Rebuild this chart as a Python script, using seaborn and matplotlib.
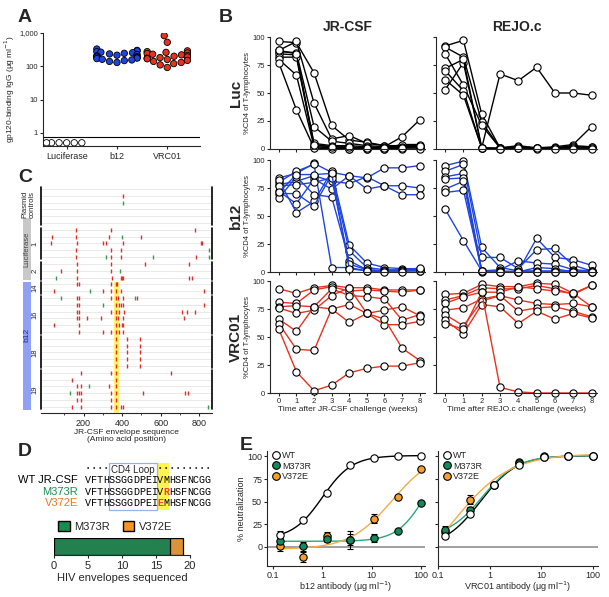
import numpy as np
import pandas as pd
import seaborn as sns
import matplotlib.pyplot as plt
from matplotlib.patches import Rectangle
from matplotlib.lines import Line2D
from matplotlib.ticker import NullLocator, FixedLocator
import matplotlib.transforms as mtrans

# ---------------- data ----------------
# A: gp120-binding IgG (ug/ml)
luc_igg = [0.5, 0.5, 0.5, 0.5, 0.5, 0.5]
b12_igg = [330, 300, 290, 275, 265, 255, 245, 235, 225, 215, 205, 200, 195, 188,
           182, 176, 170, 162, 155, 148, 140, 130]
vrc_igg = [830, 525, 290, 275, 262, 250, 240, 230, 220, 210, 200, 190, 182, 175,
           168, 160, 150, 140, 130, 120, 110, 92]

# B: %CD4 of T-lymphocytes, weeks 0-8, one list per mouse
weeks = [0, 1, 2, 3, 4, 5, 6, 7, 8]
luc_jr = [[96, 95, 68, 21, 8, 6, 3, 2, 2],
          [88, 96, 41, 9, 12, 5, 3, 3, 3],
          [87, 86, 20, 7, 5, 3, 2, 11, 26],
          [85, 84, 5, 3, 3, 2, 1, 4, 4],
          [82, 82, 3, 2, 1, 1, 1, 2, 2],
          [80, 66, 2, 1, 0, 0, 0, 1, 1],
          [77, 35, 1, 0, 0, 0, 0, 0, 0],
          [88, 85, 4, 2, 2, 1, 1, 1, 3]]
luc_rejo = [[53, 77, 1, 67, 61, 73, 50, 50, 48],
            [92, 97, 31, 1, 1, 1, 1, 1, 1],
            [91, 82, 24, 1, 2, 1, 2, 4, 20],
            [85, 57, 21, 1, 1, 1, 1, 3, 2],
            [72, 80, 1, 1, 3, 1, 1, 2, 2],
            [70, 52, 1, 0, 2, 0, 1, 1, 1],
            [62, 48, 1, 0, 1, 1, 0, 0, 0]]
b12_jr = [[84, 88, 97, 89, 86, 84, 93, 93, 95],
          [78, 81, 86, 81, 79, 85, 77, 77, 75],
          [72, 61, 83, 74, 86, 74, 77, 69, 69],
          [80, 90, 96, 4, 4, 1, 1, 1, 1],
          [82, 53, 63, 90, 24, 8, 4, 3, 3],
          [70, 70, 59, 87, 19, 4, 2, 2, 2],
          [66, 85, 69, 67, 10, 2, 1, 1, 2],
          [77, 78, 80, 84, 7, 2, 1, 1, 1],
          [71, 87, 87, 88, 3, 1, 0, 0, 4]]
b12_rejo = [[95, 99, 22, 4, 1, 30, 13, 11, 6],
            [90, 96, 13, 13, 3, 20, 21, 6, 1],
            [85, 88, 1, 2, 10, 8, 7, 2, 1],
            [83, 84, 1, 1, 0, 4, 3, 0, 0],
            [74, 81, 0, 0, 1, 1, 1, 1, 1],
            [71, 73, 1, 0, 0, 0, 0, 0, 0],
            [56, 28, 1, 0, 0, 0, 0, 0, 0]]
vrc_jr = [[93, 89, 94, 96, 94, 94, 92, 92, 92],
          [81, 80, 92, 95, 91, 92, 91, 90, 92],
          [77, 78, 77, 93, 87, 86, 84, 65, 70],
          [76, 71, 74, 87, 94, 71, 61, 61, 64],
          [66, 55, 77, 75, 79, 71, 74, 77, 69],
          [62, 39, 38, 75, 63, 71, 66, 40, 29],
          [57, 19, 2, 7, 18, 22, 24, 24, 27]]
vrc_rejo = [[88, 89, 97, 95, 95, 98, 97, 89, 96],
            [83, 87, 94, 93, 93, 96, 93, 88, 96],
            [80, 86, 90, 90, 95, 93, 91, 89, 77],
            [74, 76, 84, 87, 83, 80, 79, 80, 77],
            [70, 60, 82, 87, 73, 76, 77, 73, 68],
            [65, 53, 79, 77, 62, 73, 66, 71, 67],
            [62, 57, 90, 5, 1, 0, 0, 0, 0]]

# C: mutations per sequenced envelope (amino acid positions), one list per row
red_sites = [[], [405], [], [], [], [],
             [160, 340, 775],
             [35, 160, 330, 500],
             [30, 165, 300, 315, 405, 808, 812],
             [160, 340, 395],
             [160, 340, 395, 780],
             [165, 340, 520, 745],
             [85, 165, 340],
             [165, 345, 395, 400, 405, 745, 760],
             [165, 175, 340, 370, 375],
             [45, 300, 340, 370, 395, 825],
             [165, 175, 340, 370, 380, 405, 475],
             [165, 175, 370, 385, 395, 405, 825],
             [165, 175, 340, 370, 385, 410, 710, 735, 775],
             [165, 175, 220, 290, 370, 380, 405, 720],
             [45, 175, 370, 385, 400, 405],
             [175, 300, 340, 370, 385, 405],
             [370, 425, 490], [370, 425, 490], [370, 425, 490],
             [370, 425, 490], [370, 425, 490],
             [185, 340, 370, 655],
             [140, 370],
             [165, 185, 330, 370],
             [165, 175, 185, 340, 370, 510, 725, 740],
             [165, 185, 340, 370],
             [140, 185, 340, 370, 395, 405]]
green_sites = [[], [], [405], [], [], [],
               [], [400], [], [848], [315, 560, 848],
               [], [390], [60],
               [], [235],
               [85, 465], [300], [], [], [], [],
               [], [], [], [], [],
               [], [], [230], [130], [], [845]]
group_names = ['', '1', '2', '14', '16', '18', '19']
group_sizes = [6, 5, 3, 2, 6, 5, 6]

# D
wt_seq = 'VFTHSSGGDPEIVMHSFNCGG'
m373r_seq = 'VFTHSSGGDPEIVRHSFNCGG'
v372e_seq = 'VFTHSSGGDPEIEMHSFNCGG'
env_variants = ['M373R', 'V372E']
env_counts = [17, 2]

# E: % neutralization
conc = [0.137, 0.41, 1.23, 3.7, 11.1, 33.3, 100]
b12_wt = [13, 30, 60, 91, 98, 100, 100]
b12_m373r = [7, 1, 9, 8, 10, 18, 49]
b12_v372e = [1, -11, 12, 8, 31, 55, 86]
b12_wt_err = [5, 2, 2, 2, 1, 1, 1]
b12_m373r_err = [3, 5, 3, 10, 4, 2, 2]
b12_v372e_err = [5, 6, 5, 6, 5, 2, 2]
vrc_wt = [12, 36, 68, 91, 99, 100, 100]
vrc_m373r = [19, 41, 68, 93, 100, 100, 100]
vrc_v372e = [17, 52, 69, 94, 99, 100, 100]
vrc_wt_err = [2, 2, 2, 2, 1, 1, 1]
vrc_m373r_err = [4, 3, 2, 2, 1, 1, 1]
vrc_v372e_err = [3, 5, 2, 2, 1, 1, 1]

# ---------------- style ----------------
sns.set_style('ticks')
plt.rcParams['font.family'] = ['Liberation Sans', 'DejaVu Sans']
plt.rcParams['axes.linewidth'] = 0.8
plt.rcParams['xtick.major.width'] = 0.8
plt.rcParams['ytick.major.width'] = 0.8
plt.rcParams['xtick.major.size'] = 2.5
plt.rcParams['ytick.major.size'] = 2.5
plt.rcParams['xtick.major.pad'] = 1.5
plt.rcParams['ytick.major.pad'] = 1.5

BLUE = '#1f45e0'
RED = '#e8321e'
GREEN = '#1a8f55'

W, H = 609, 597
fig = plt.figure(figsize=(W / 100, H / 100), dpi=100)


def px_axes(l, t, r, b):
    return fig.add_axes([l / W, 1 - b / H, (r - l) / W, (b - t) / H])


def ftext(x, y, s, **kw):
    fig.text(x / W, 1 - y / H, s, **kw)


for letter, x, y in [('A', 18, 17), ('B', 219, 17), ('C', 18, 178), ('D', 18, 451), ('E', 240, 446)]:
    ftext(x, y, letter, fontsize=14, fontweight='bold', va='center', ha='left')

# ---------------- A ----------------
axA = px_axes(43, 33, 200, 146)
axA.set_yscale('log')
axA.set_ylim(0.4, 1000)
dfA = pd.DataFrame({'group': ['Luciferase'] * len(luc_igg) + ['b12'] * len(b12_igg) + ['VRC01'] * len(vrc_igg),
                    'igg': luc_igg + b12_igg + vrc_igg})
sns.swarmplot(data=dfA, x='group', y='igg', hue='group',
              palette={'Luciferase': 'white', 'b12': BLUE, 'VRC01': RED},
              size=4.6, edgecolor='black', linewidth=0.6, legend=False, ax=axA)
axA.set_xlim(-0.47, 2.65)
axA.axhline(0.75, color='black', lw=0.8)
axA.yaxis.set_major_locator(FixedLocator([1, 10, 100, 1000]))
axA.yaxis.set_minor_locator(NullLocator())
axA.set_yticklabels(['1', '10', '100', '1,000'])
axA.tick_params(axis='y', labelsize=5.5, pad=1)
axA.tick_params(axis='x', labelsize=6.5)
axA.set_xlabel('')
axA.set_ylabel('gp120-binding IgG (μg ml$^{-1}$)', fontsize=6, labelpad=2)
sns.despine(ax=axA)

# ---------------- B ----------------
b_data = [[luc_jr, luc_rejo], [b12_jr, b12_rejo], [vrc_jr, vrc_rejo]]
b_colors = ['black', BLUE, RED]
b_rows = [(37, 149), (160, 272), (281, 393)]
b_cols = [(270, 425), (436, 597)]
row_names = ['Luc', 'b12', 'VRC01']
strains = ['JR-CSF', 'REJO.c']
for i, (t, b) in enumerate(b_rows):
    for j, (l, r) in enumerate(b_cols):
        ax = px_axes(l, t, r, b)
        mice = b_data[i][j]
        df = pd.DataFrame({'week': weeks * len(mice),
                           'cd4': [v for m in mice for v in m],
                           'mouse': [k for k in range(len(mice)) for _ in weeks]})
        sns.lineplot(data=df, x='week', y='cd4', units='mouse', estimator=None,
                     color=b_colors[i], lw=1, marker='o', markersize=5.2,
                     markerfacecolor='white', markeredgecolor='black',
                     markeredgewidth=0.8, clip_on=False, ax=ax)
        ax.set_xlim(-0.5, 8.3)
        ax.set_ylim(0, 100)
        ax.set_xticks(weeks)
        ax.set_yticks([0, 25, 50, 75, 100])
        ax.tick_params(labelsize=5.5, length=2)
        ax.set_xlabel('')
        ax.set_ylabel('')
        if j == 0:
            ax.set_ylabel('%CD4 of T-lymphocytes', fontsize=5.5, labelpad=1)
        else:
            ax.set_yticklabels([])
        if i < 2:
            ax.set_xticklabels([])
        else:
            ax.set_xlabel('Time after %s challenge (weeks)' % strains[j], fontsize=6, labelpad=1)
        sns.despine(ax=ax)
    ftext(236, (t + b) / 2, row_names[i], fontsize=11, fontweight='bold',
          rotation=90, ha='center', va='center')
ftext(348, 27, 'JR-CSF', fontsize=10, fontweight='bold', ha='center', va='center')
ftext(517, 27, 'REJO.c', fontsize=10, fontweight='bold', ha='center', va='center')

# ---------------- C ----------------
axC = px_axes(41, 187, 212, 413)
n_rows = len(red_sites)
axC.set_xlim(-20, 865)
axC.set_ylim(n_rows - 0.1, -0.3)
axC.hlines(range(n_rows), -20, 865, color='#e2e2e2', lw=0.5, zorder=0)
axC.axvspan(357, 383, ymin=0, ymax=(n_rows - 0.1 - 13.6) / (n_rows + 0.2),
            color='#fff34f', alpha=0.85, lw=0, zorder=0.5)
red_df = pd.DataFrame({'pos': [p for r in red_sites for p in r],
                       'row': [k for k, r in enumerate(red_sites) for _ in r]})
green_df = pd.DataFrame({'pos': [p for r in green_sites for p in r],
                         'row': [k for k, r in enumerate(green_sites) for _ in r]})
sns.scatterplot(data=red_df, x='pos', y='row', marker='|', s=12, color='#e0302a',
                linewidth=1.0, ax=axC, zorder=3)
sns.scatterplot(data=green_df, x='pos', y='row', marker='|', s=12, color='#3a9a4a',
                linewidth=1.0, ax=axC, zorder=3)
axC.set_xticks([200, 400, 600, 800])
axC.xaxis.set_minor_locator(FixedLocator(range(100, 900, 100)))
axC.tick_params(axis='x', which='minor', length=1.5)
axC.set_yticks([])
axC.tick_params(axis='x', labelsize=6.5)
axC.set_ylabel('')
axC.set_xlabel('JR-CSF envelope sequence\n(Amino acid position)', fontsize=6, labelpad=1, linespacing=1.1)
for side in ['left', 'right', 'top']:
    axC.spines[side].set_visible(False)
trans_c = mtrans.blended_transform_factory(axC.transAxes, axC.transData)
start = 0
for name, size in zip(group_names, group_sizes):
    y0, y1 = start - 0.35, start + size - 0.65
    if start == 0:
        y0 = -0.3
    for xa in (0, 1):
        axC.plot([xa, xa], [y0, y1], color='black', lw=1.2, transform=trans_c, clip_on=False)
    if name:
        axC.text(-0.035, (y0 + y1) / 2, name, transform=trans_c, rotation=90,
                 fontsize=5.5, ha='center', va='center')
    start += size
axC.text(-0.075, 2.3, 'Plasmid\ncontrols', transform=trans_c, rotation=90, fontsize=5.5,
         ha='center', va='center', linespacing=1.0)
axC.add_patch(Rectangle((-0.108, 4.3), 0.048, 9.0, transform=trans_c, color='#c8c8c8',
                        clip_on=False, lw=0))
axC.text(-0.084, 8.8, 'Luciferase', transform=trans_c, rotation=90, fontsize=5.5,
         ha='center', va='center', color='#444444')
axC.add_patch(Rectangle((-0.108, 13.7), 0.048, 18.8, transform=trans_c, color='#8fa0f5',
                        clip_on=False, lw=0))
axC.text(-0.084, 21.5, 'b12', transform=trans_c, rotation=90, fontsize=6,
         ha='center', va='center', color='#1a2aa0')

# ---------------- D (sequence alignment) ----------------
axD = px_axes(0, 458, 240, 515)
axD.set_xlim(0, 240)
axD.set_ylim(515, 458)
axD.axis('off')
x0, cw = 85, 6.0
axD.add_patch(Rectangle((x0 + 12 * cw, 463), 2 * cw, 47, color='#fff34f', lw=0, zorder=0))
axD.add_patch(Rectangle((x0 + 4 * cw, 463), 8 * cw, 47, fill=False, ec='#9ab0e8', lw=0.9))
axD.text(x0 + 8 * cw, 469.5, 'CD4 Loop', fontsize=7, ha='center', va='center')
for k in list(range(0, 4)) + list(range(12, 21)):
    axD.text(x0 + (k + 0.5) * cw, 468, '•', fontsize=5, ha='center', va='center')
seq_rows = [(wt_seq, 'WT JR-CSF', 'black', 480), (m373r_seq, 'M373R', GREEN, 491.5),
            (v372e_seq, 'V372E', '#f07820', 503)]
for seq, lab, col, y in seq_rows:
    axD.text(78, y, lab, color=col, fontsize=8, ha='right', va='center')
    for k, ch in enumerate(seq):
        hl = ch != wt_seq[k]
        axD.text(x0 + (k + 0.5) * cw, y, ch, fontsize=7.3, ha='center', va='center',
                 family=['Liberation Mono', 'DejaVu Sans Mono'],
                 color='#e8462a' if hl else 'black', fontweight='bold' if hl else 'normal')

# ---------------- D (bar) ----------------
axD2 = px_axes(54, 538, 190, 555)
dfD = pd.DataFrame({'y': ['n', 'n'], 'count': [sum(env_counts), env_counts[0]],
                    'variant': ['V372E', 'M373R']})
sns.barplot(data=dfD.iloc[[0]], x='count', y='y', color='#f7941d', edgecolor='black',
            linewidth=0.9, width=1.0, ax=axD2)
sns.barplot(data=dfD.iloc[[1]], x='count', y='y', color='#14904e', edgecolor='black',
            linewidth=0.9, width=1.0, ax=axD2)
axD2.set_xlim(0, 20)
axD2.set_ylim(0.5, -0.5)
axD2.set_xticks([0, 5, 10, 15, 20])
axD2.set_yticks([])
axD2.tick_params(axis='x', labelsize=8, pad=2)
axD2.set_ylabel('')
axD2.set_xlabel('HIV envelopes sequenced', fontsize=8, labelpad=1)
for side in ['left', 'right', 'top']:
    axD2.spines[side].set_visible(False)
axD2.legend(handles=[Rectangle((0, 0), 1, 1, fc='#14904e', ec='black'),
                     Rectangle((0, 0), 1, 1, fc='#f7941d', ec='black')],
            labels=env_variants, ncol=2, frameon=False, fontsize=8,
            loc='lower center', bbox_to_anchor=(0.45, 1.05), handlelength=1.0,
            handleheight=1.0, columnspacing=1.2, handletextpad=0.4, borderaxespad=0.1)


# ---------------- E ----------------
def fit_logistic(x, y):
    lx = np.log10(np.asarray(x, float))
    y = np.asarray(y, float)
    cs = np.linspace(-1.5, 3.5, 251)[:, None, None]
    hs = np.linspace(0.4, 3.0, 66)[None, :, None]
    s = 1 / (1 + 10 ** ((cs - lx[None, None, :]) * hs))
    best = (np.inf, None)
    for top in np.arange(98, 106.5, 1.0):
        bottom = ((y - top * s) * (1 - s)).sum(-1) / ((1 - s) ** 2).sum(-1)
        pred = bottom[..., None] * (1 - s) + top * s
        sse = ((pred - y) ** 2).sum(-1)
        k = np.unravel_index(np.argmin(sse), sse.shape)
        if sse[k] < best[0]:
            best = (sse[k], (cs.ravel()[k[0]], hs.ravel()[k[1]], bottom[k], top))
    return best[1]


variants = ['WT', 'M373R', 'V372E']
face = {'WT': 'white', 'M373R': '#17885a', 'V372E': '#f5a02a'}
line_col = {'WT': 'black', 'M373R': '#2aa878', 'V372E': '#f5ac45'}
e_sets = [([b12_wt, b12_m373r, b12_v372e], [b12_wt_err, b12_m373r_err, b12_v372e_err],
           (267, 425), (0.0756, 120), 'b12 antibody (μg ml$^{-1}$)'),
          ([vrc_wt, vrc_m373r, vrc_v372e], [vrc_wt_err, vrc_m373r_err, vrc_v372e_err],
           (438, 598), (0.1, 125), 'VRC01 antibody (μg ml$^{-1}$)')]
for j, (vals, errs, (l, r), xl, xlab) in enumerate(e_sets):
    ax = px_axes(l, 451, r, 566)
    ax.set_xscale('log')
    ax.axhline(0, color='#999999', lw=1.3, zorder=0)
    xs = np.logspace(np.log10(conc[0]), 2, 200)
    for v, ys, es in zip(variants, vals, errs):
        c, h, bot, top = fit_logistic(conc, ys)
        curve = pd.DataFrame({'x': xs, 'y': bot + (top - bot) / (1 + 10 ** ((c - np.log10(xs)) * h))})
        sns.lineplot(data=curve, x='x', y='y', color=line_col[v], lw=1.0, ax=ax, zorder=1)
    for v, ys, es in zip(variants[::-1], vals[::-1], errs[::-1]):
        ax.errorbar(conc, ys, yerr=es, fmt='none', ecolor='black', elinewidth=0.8,
                    capsize=2, capthick=0.8, zorder=2)
        sns.scatterplot(x=conc, y=ys, color=face[v], edgecolor='black', linewidth=0.8,
                        s=28, ax=ax, zorder=3, clip_on=False)
    ax.set_xlim(*xl)
    ax.set_ylim(-21, 106)
    ax.set_xticks([0.1, 1, 10, 100])
    ax.xaxis.set_minor_locator(NullLocator())
    ax.set_xticklabels(['0.1', '1', '10', '100'])
    ax.set_yticks([0, 25, 50, 75, 100])
    ax.tick_params(labelsize=6.5, pad=1)
    ax.set_xlabel(xlab, fontsize=6.5, labelpad=0)
    if j == 0:
        ax.set_ylabel('% neutralization', fontsize=6.5, labelpad=1)
    else:
        ax.set_yticklabels([])
        ax.set_ylabel('')
    sns.despine(ax=ax)
    handles = [Line2D([], [], marker='o', ls='none', mfc=face[v], mec='black', mew=0.8, ms=5.5)
               for v in variants]
    ax.legend(handles, variants, loc='upper left', frameon=False, fontsize=6.5,
              handletextpad=0.1, labelspacing=0.15, borderaxespad=0.0,
              bbox_to_anchor=(0.0, 1.03), handlelength=1.2)

fig.savefig('out.png', dpi=100)
